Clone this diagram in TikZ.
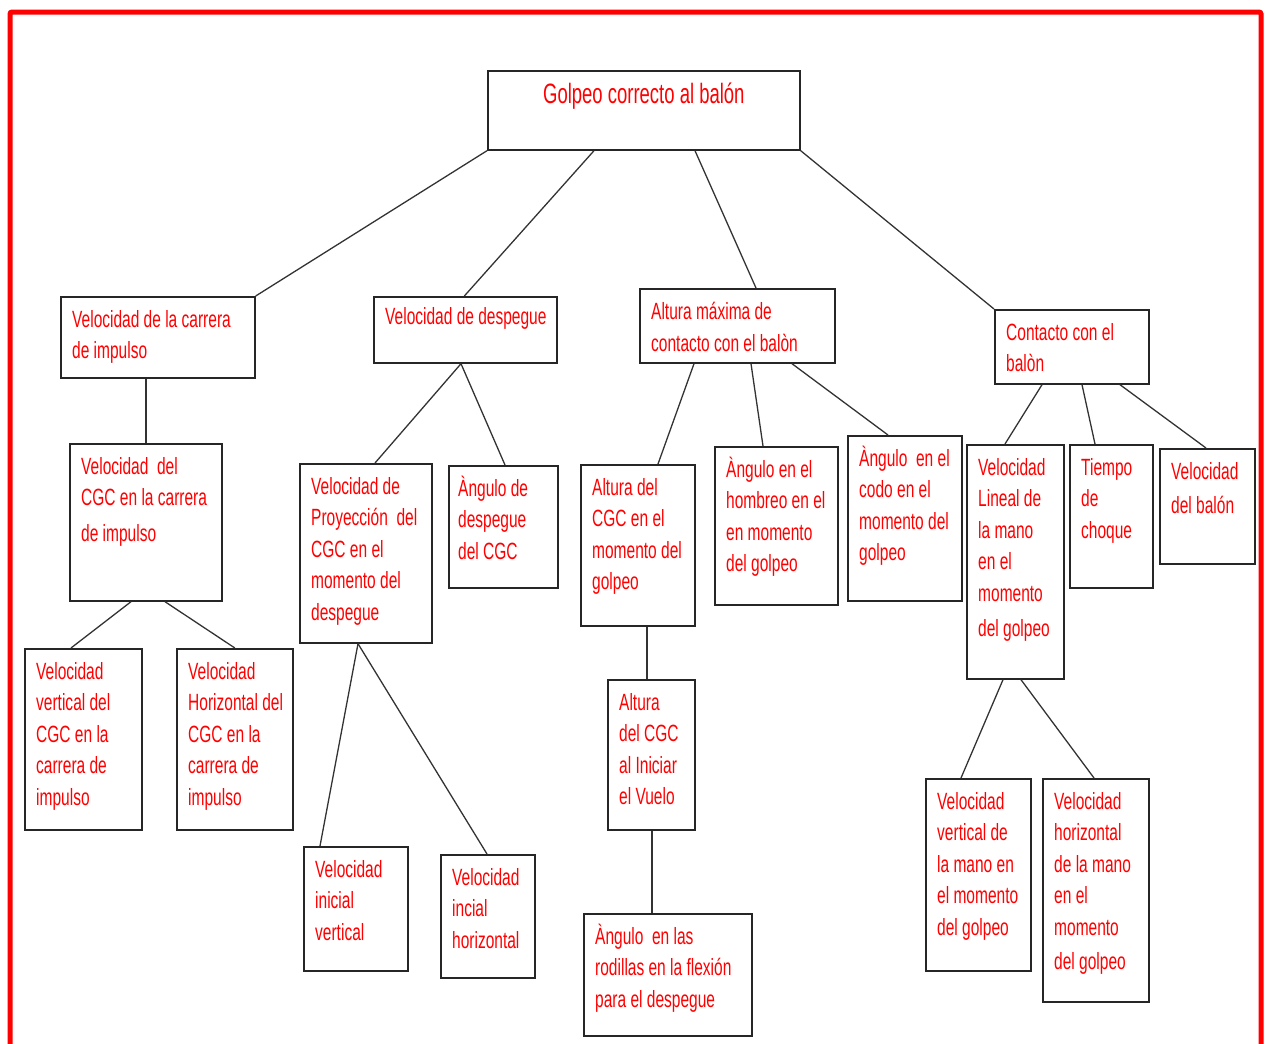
\documentclass[tikz,border=0pt]{standalone}
\usepackage{fontspec}
\newfontfamily\conceptfont[FakeStretch=0.66]{Liberation Sans}
\tikzset{
  concept/.style={draw=black!85, line width=1.7pt, rectangle, anchor=north west, inner sep=0pt},
  txt/.style={anchor=north west, xshift=12pt, yshift=-14pt, inner sep=0pt, align=left,
    text=red, font=\conceptfont\fontsize{23.5}{31.5}\selectfont},
  toptxt/.style={anchor=north, yshift=-13pt, inner sep=0pt,
    text=red, font=\conceptfont\fontsize{28}{32}\selectfont},
  link/.style={draw=black!80, line width=1.3pt}
}
\begin{document}
\begin{tikzpicture}[x=1pt,y=-1pt]
  \useasboundingbox (0,0) rectangle (1270,1044);
  \draw[red, line width=5pt, rounded corners=2pt] (10,12) rectangle (1261,1070);
  % top
  \node[concept, minimum width=312pt, minimum height=79pt,
    label={[toptxt]north:{Golpeo correcto al balón}}] (gcb) at (487,70) {};
  % second level
  \node[concept, minimum width=194pt, minimum height=81pt,
    label={[txt]north west:{Velocidad de la carrera\\de impulso}}] (vcarrera) at (60,296) {};
  \node[concept, minimum width=183pt, minimum height=66pt,
    label={[txt, yshift=3pt]north west:{Velocidad de despegue}}] (vdespegue) at (373,296) {};
  \node[concept, minimum width=195pt, minimum height=74pt,
    label={[txt]north west:{Altura máxima de\\contacto con el balòn}}] (altmax) at (639,288) {};
  \node[concept, minimum width=154pt, minimum height=74pt,
    label={[txt]north west:{Contacto con el\\balòn}}] (contacto) at (994,309) {};
  % carrera de impulso
  \node[concept, minimum width=152pt, minimum height=157pt,
    label={[txt]north west:{Velocidad\ \ del\\CGC en la carrera\\[4pt]de impulso}}] (vcgc) at (69,443) {};
  \node[concept, minimum width=117pt, minimum height=181pt,
    label={[txt]north west:{Velocidad\\vertical del\\CGC en la\\carrera de\\impulso}}] (vvert) at (24,648) {};
  \node[concept, minimum width=116pt, minimum height=181pt,
    label={[txt]north west:{Velocidad\\Horizontal del\\CGC en la\\carrera de\\impulso}}] (vhoriz) at (176,648) {};
  % despegue
  \node[concept, minimum width=132pt, minimum height=179pt,
    label={[txt]north west:{Velocidad de\\Proyección\ \ del\\CGC en el\\momento del\\despegue}}] (vproy) at (299,463) {};
  \node[concept, minimum width=109pt, minimum height=122pt,
    label={[txt, xshift=-2pt]north west:{\smash{À}ngulo de\\despegue\\del CGC}}] (angdesp) at (448,465) {};
  \node[concept, minimum width=104pt, minimum height=124pt,
    label={[txt]north west:{Velocidad\\inicial\\vertical}}] (vini) at (303,846) {};
  \node[concept, minimum width=94pt, minimum height=123pt,
    label={[txt]north west:{Velocidad\\incial\\horizontal}}] (vinih) at (440,854) {};
  % altura maxima
  \node[concept, minimum width=114pt, minimum height=161pt,
    label={[txt]north west:{Altura del\\CGC en el\\momento del\\golpeo}}] (altcgc) at (580,464) {};
  \node[concept, minimum width=123pt, minimum height=158pt,
    label={[txt]north west:{\smash{À}ngulo en el\\hombreo en el\\en momento\\del golpeo}}] (anghombro) at (714,446) {};
  \node[concept, minimum width=114pt, minimum height=165pt,
    label={[txt]north west:{\smash{À}ngulo\ \ en el\\codo en el\\momento del\\golpeo}}] (angcodo) at (847,435) {};
  \node[concept, minimum width=87pt, minimum height=150pt,
    label={[txt]north west:{Altura\\del CGC\\al Iniciar\\el Vuelo}}] (altvuelo) at (607,679) {};
  \node[concept, minimum width=168pt, minimum height=122pt,
    label={[txt]north west:{\smash{À}ngulo\ \ en las\\rodillas en la flexión\\para el despegue}}] (angrodilla) at (583,913) {};
  % contacto
  \node[concept, minimum width=97pt, minimum height=234pt,
    label={[txt]north west:{Velocidad\\Lineal de\\la mano\\en el\\momento\\[4pt]del golpeo}}] (vlineal) at (966,444) {};
  \node[concept, minimum width=83pt, minimum height=143pt,
    label={[txt]north west:{Tiempo\\de\\choque}}] (tchoque) at (1069,444) {};
  \node[concept, minimum width=95pt, minimum height=115pt,
    label={[txt]north west:{Velocidad\\[3pt]del balón}}] (vbalon) at (1159,448) {};
  \node[concept, minimum width=105pt, minimum height=192pt,
    label={[txt]north west:{Velocidad\\vertical de\\la mano en\\el momento\\del golpeo}}] (vvmano) at (925,778) {};
  \node[concept, minimum width=106pt, minimum height=223pt,
    label={[txt]north west:{Velocidad\\horizontal\\de la mano\\en el\\momento\\[3pt]del golpeo}}] (vhmano) at (1042,778) {};
  % connectors
  \draw[link] (gcb.south west) -- (vcarrera.north east);
  \draw[link] ([xshift=107pt]gcb.south west) -- ([xshift=-1pt]vdespegue.north);
  \draw[link] ([xshift=208pt]gcb.south west) -- ([xshift=117pt]altmax.north west);
  \draw[link] (gcb.south east) -- (contacto.north west);
  \draw[link] (vcgc.north |- vcarrera.south) -- (vcgc.north);
  \draw[link] ([xshift=62pt]vcgc.south west) -- ([xshift=47pt]vvert.north west);
  \draw[link] ([xshift=96pt]vcgc.south west) -- (vhoriz.north);
  \draw[link] ([xshift=88pt]vdespegue.south west) -- ([xshift=76pt]vproy.north west);
  \draw[link] ([xshift=88pt]vdespegue.south west) -- ([xshift=57pt]angdesp.north west);
  \draw[link] ([xshift=59pt]vproy.south west) -- ([xshift=17pt]vini.north west);
  \draw[link] ([xshift=59pt]vproy.south west) -- ([xshift=47pt]vinih.north west);
  \draw[link] ([xshift=55pt]altmax.south west) -- ([xshift=78pt]altcgc.north west);
  \draw[link] ([xshift=112pt]altmax.south west) -- ([xshift=49pt]anghombro.north west);
  \draw[link] ([xshift=153pt]altmax.south west) -- ([xshift=41pt]angcodo.north west);
  \draw[link] ([xshift=40pt]altvuelo.north west |- altcgc.south) -- ([xshift=40pt]altvuelo.north west);
  \draw[link] ([xshift=45pt]altvuelo.south west) -- ([xshift=45pt]altvuelo.south west |- angrodilla.north);
  \draw[link] ([xshift=48pt]contacto.south west) -- ([xshift=39pt]vlineal.north west);
  \draw[link] ([xshift=88pt]contacto.south west) -- ([xshift=26pt]tchoque.north west);
  \draw[link] ([xshift=126pt]contacto.south west) -- ([xshift=47pt]vbalon.north west);
  \draw[link] ([xshift=37pt]vlineal.south west) -- ([xshift=36pt]vvmano.north west);
  \draw[link] ([xshift=55pt]vlineal.south west) -- ([xshift=52pt]vhmano.north west);
\end{tikzpicture}
\end{document}
